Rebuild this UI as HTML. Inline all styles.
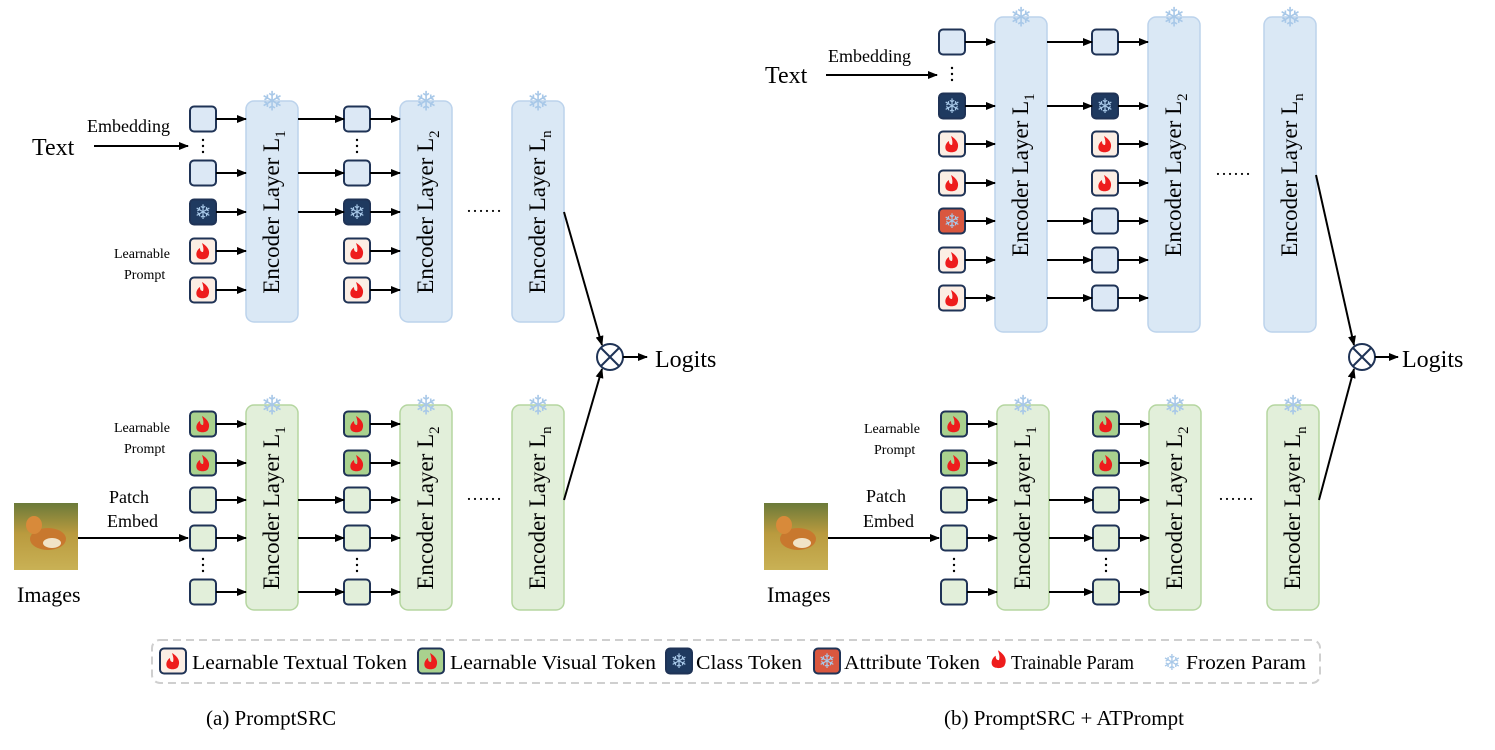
<!DOCTYPE html>
<html><head><meta charset="utf-8"><style>
html,body{margin:0;padding:0;background:#fff}
svg{display:block;font-family:"Liberation Serif",serif}
</style></head><body>
<svg id="s" width="1495" height="750" viewBox="0 0 1495 750" xmlns="http://www.w3.org/2000/svg">
<defs>
<marker id="ah" markerWidth="10" markerHeight="8" refX="9" refY="4" orient="auto" markerUnits="userSpaceOnUse"><path d="M0,0 L10,4 L0,8 z" fill="#000"/></marker>
<linearGradient id="dog" x1="0" y1="0" x2="0" y2="1"><stop offset="0" stop-color="#6b7a3a"/><stop offset="0.45" stop-color="#b99a3e"/><stop offset="1" stop-color="#c9b155"/></linearGradient>
</defs>
<g id="g"></g>
<text x="32" y="155" font-size="24">Text</text>
<text x="87" y="132" font-size="18">Embedding</text>
<text x="114" y="258" font-size="14">Learnable</text>
<text x="124" y="279" font-size="14">Prompt</text>
<text x="114" y="432" font-size="14">Learnable</text>
<text x="124" y="453" font-size="14">Prompt</text>
<text x="109" y="503" font-size="18">Patch</text>
<text x="107" y="527" font-size="18">Embed</text>
<text x="17" y="602" font-size="22">Images</text>
<text x="655" y="367" font-size="24">Logits</text>
<text x="466" y="212" font-size="18">……</text>
<text x="466" y="500" font-size="18">……</text>

<text x="765" y="83" font-size="24">Text</text>
<text x="828" y="62" font-size="18">Embedding</text>
<text x="864" y="433" font-size="14">Learnable</text>
<text x="874" y="454" font-size="14">Prompt</text>
<text x="866" y="502" font-size="18">Patch</text>
<text x="863" y="527" font-size="18">Embed</text>
<text x="767" y="602" font-size="22">Images</text>
<text x="1402" y="367" font-size="24">Logits</text>
<text x="1215" y="175" font-size="18">……</text>
<text x="1218" y="500" font-size="18">……</text>

<g font-size="23" text-anchor="middle">
<text transform="translate(279,212) rotate(-90)">Encoder Layer L<tspan font-size="15" dy="6">1</tspan></text>
<text transform="translate(433,212) rotate(-90)">Encoder Layer L<tspan font-size="15" dy="6">2</tspan></text>
<text transform="translate(545,212) rotate(-90)">Encoder Layer L<tspan font-size="15" dy="6">n</tspan></text>
<text transform="translate(279,508) rotate(-90)">Encoder Layer L<tspan font-size="15" dy="6">1</tspan></text>
<text transform="translate(433,508) rotate(-90)">Encoder Layer L<tspan font-size="15" dy="6">2</tspan></text>
<text transform="translate(545,508) rotate(-90)">Encoder Layer L<tspan font-size="15" dy="6">n</tspan></text>
<text transform="translate(1028,175) rotate(-90)">Encoder Layer L<tspan font-size="15" dy="6">1</tspan></text>
<text transform="translate(1181,175) rotate(-90)">Encoder Layer L<tspan font-size="15" dy="6">2</tspan></text>
<text transform="translate(1297,175) rotate(-90)">Encoder Layer L<tspan font-size="15" dy="6">n</tspan></text>
<text transform="translate(1030,508) rotate(-90)">Encoder Layer L<tspan font-size="15" dy="6">1</tspan></text>
<text transform="translate(1182,508) rotate(-90)">Encoder Layer L<tspan font-size="15" dy="6">2</tspan></text>
<text transform="translate(1300,508) rotate(-90)">Encoder Layer L<tspan font-size="15" dy="6">n</tspan></text>
</g>

<rect x="152" y="640" width="1168" height="43" rx="8" fill="none" stroke="#cfcfcf" stroke-width="2" stroke-dasharray="8,5"/>
<g font-size="20">
<text x="192" y="669" textLength="215" lengthAdjust="spacingAndGlyphs">Learnable Textual Token</text>
<text x="450" y="669" textLength="206" lengthAdjust="spacingAndGlyphs">Learnable Visual Token</text>
<text x="696" y="669" textLength="106" lengthAdjust="spacingAndGlyphs">Class Token</text>
<text x="844" y="669" textLength="136" lengthAdjust="spacingAndGlyphs">Attribute Token</text>
<text x="1011" y="669" textLength="123" lengthAdjust="spacingAndGlyphs">Trainable Param</text>
<text x="1186" y="669" textLength="120" lengthAdjust="spacingAndGlyphs">Frozen Param</text>
<text x="1172" y="670" font-size="22" fill="#a8c8e8" text-anchor="middle" font-family="DejaVu Sans">❄</text>
</g>
<text x="206" y="725" font-size="21">(a) PromptSRC</text>
<text x="944" y="725" font-size="21">(b) PromptSRC + ATPrompt</text>
</svg>
<script>
const NS="http://www.w3.org/2000/svg",G=document.getElementById('g');
function el(t,a,p){const e=document.createElementNS(NS,t);for(const k in a)e.setAttribute(k,a[k]);(p||G).appendChild(e);return e;}
function flame(cx,cy,s){s=s||1;el('path',{d:`M${cx-1*s},${cy-8*s} C${cx+7*s},${cy-3*s} ${cx+7*s},${cy+2*s} ${cx+5*s},${cy+6*s} C${cx+3*s},${cy+9*s} ${cx-4*s},${cy+9*s} ${cx-6*s},${cy+6*s} C${cx-8*s},${cy+2*s} ${cx-5*s},${cy-2*s} ${cx-3*s},${cy-3*s} C${cx-3*s},${cy} ${cx-2*s},${cy+1*s} ${cx},${cy+1*s} C${cx+1*s},${cy-2*s} ${cx},${cy-5*s} ${cx-1*s},${cy-8*s} Z`,fill:'#ee1c1c'});}
function snow(cx,cy,col,sz){const t=el('text',{x:cx,y:cy+sz*0.36,'font-size':sz,'text-anchor':'middle',fill:col,'font-family':'DejaVu Sans'});t.textContent='❄';}
function tok(x,cy,type){const y=cy-12.5;
 const F={t:'#dce8f5',v:'#e2efda',ft:'#fbeee4',fv:'#a9d18e',c:'#1f3a60',a:'#d9573f'};
 el('rect',{x:x,y:y,width:26,height:25,rx:4,fill:F[type],stroke:'#1f3356','stroke-width':2});
 if(type=='ft'||type=='fv')flame(x+13,cy);
 if(type=='c'||type=='a')snow(x+13,cy,'#a8c8e8',20);}
function dots(x,cy){for(let i=-1;i<=1;i++)el('circle',{cx:x,cy:cy+i*6,r:1.2,fill:'#000'});}
function arr(x1,y1,x2,y2){el('line',{x1,y1,x2,y2,stroke:'#000','stroke-width':2,'marker-end':'url(#ah)'});}
function box(x,y,h,green){el('rect',{x:x,y:y,width:52,height:h,rx:8,fill:green?'#e2efda':'#dae8f5',stroke:green?'#b5d6a0':'#bcd3ec','stroke-width':1.5});snow(x+26,y,'#a8c8e8',27);}
el('rect',{x:14,y:503,width:64,height:67,fill:'url(#dog)'});el('rect',{x:764,y:503,width:64,height:67,fill:'url(#dog)'});
[[14,503],[764,503]].forEach(([x,y])=>{el('ellipse',{cx:x+34,cy:y+36,rx:18,ry:11,fill:'#c8782e'});el('ellipse',{cx:x+20,cy:y+22,rx:8,ry:9,fill:'#d88a3a'});el('ellipse',{cx:x+38,cy:y+40,rx:9,ry:5,fill:'#f1e3c8'});});
box(246,101,221);box(400,101,221);box(512,101,221);
[[119,'t'],[173,'t'],[212,'c'],[251,'ft'],[290,'ft']].forEach(([y,t])=>{tok(190,y,t);arr(216,y,246,y);});
dots(203,146);
[[119,'t'],[173,'t'],[212,'c'],[251,'ft'],[290,'ft']].forEach(([y,t])=>{tok(344,y,t);arr(370,y,400,y);if(t!='ft')arr(298,y,344,y);});
dots(357,146);
arr(94,146,188,146);
box(246,405,205,1);box(400,405,205,1);box(512,405,205,1);
[[424,'fv'],[463,'fv'],[500,'v'],[538,'v'],[592,'v']].forEach(([y,t])=>{tok(190,y,t);arr(216,y,246,y);tok(344,y,t);arr(370,y,400,y);if(t=='v')arr(298,y,344,y);});
dots(203,565);dots(357,565);
arr(78,538,188,538);
el('circle',{cx:610,cy:357,r:13,fill:'#fff',stroke:'#1f3356','stroke-width':2});
el('line',{x1:601,y1:348,x2:619,y2:366,stroke:'#1f3356','stroke-width':2});el('line',{x1:619,y1:348,x2:601,y2:366,stroke:'#1f3356','stroke-width':2});
arr(564,212,602,345);arr(564,500,602,369);arr(623,357,647,357);
box(995,17,315);box(1148,17,315);box(1264,17,315);
[[42,'t'],[106,'c'],[144,'ft'],[183,'ft'],[221,'a'],[260,'ft'],[298,'ft']].forEach(([y,t])=>{tok(939,y,t);arr(965,y,995,y);});
dots(952,74);
[[42,'t',1],[106,'c',1],[144,'ft',0],[183,'ft',0],[221,'t',1],[260,'t',1],[298,'t',1]].forEach(([y,t,a])=>{tok(1092,y,t);arr(1118,y,1148,y);if(a)arr(1047,y,1092,y);});
arr(826,75,937,75);
box(997,405,205,1);box(1149,405,205,1);box(1267,405,205,1);
[[424,'fv'],[463,'fv'],[500,'v'],[538,'v'],[592,'v']].forEach(([y,t])=>{tok(941,y,t);arr(967,y,997,y);tok(1093,y,t);arr(1119,y,1149,y);if(t=='v')arr(1049,y,1093,y);});
dots(954,565);dots(1106,565);
arr(828,538,939,538);
el('circle',{cx:1362,cy:357,r:13,fill:'#fff',stroke:'#1f3356','stroke-width':2});
el('line',{x1:1353,y1:348,x2:1371,y2:366,stroke:'#1f3356','stroke-width':2});el('line',{x1:1371,y1:348,x2:1353,y2:366,stroke:'#1f3356','stroke-width':2});
arr(1316,175,1354,345);arr(1319,500,1354,369);arr(1375,357,1398,357);
tok(160,661,'ft');tok(418,661,'fv');tok(666,661,'c');tok(814,661,'a');flame(999,659,1.1);
</script>
</body></html>
